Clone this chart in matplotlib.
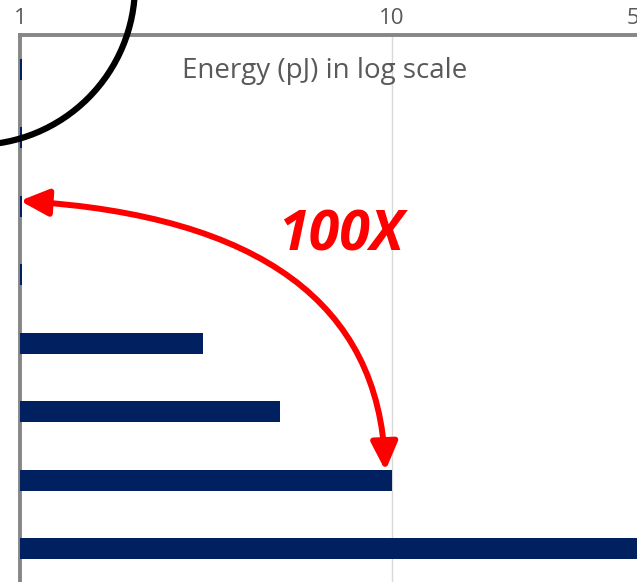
import numpy as np
import matplotlib
matplotlib.use("Agg")
import matplotlib.pyplot as plt
from matplotlib.patches import Circle, FancyArrowPatch, ArrowStyle
from matplotlib.path import Path

# energy per operation (pJ), top row first
rows = ["op1", "op2", "op3", "op4", "op5", "op6", "op7", "op8"]
energy = [1.01, 1.01, 1.01, 1.01, 3.1, 5.0, 10.0, 100.0]
ticks = [1, 10, 50]
tick_labels = ["1", "10", "50"]

bar_color = "#002060"
axis_gray = "#868686"
text_gray = "#595959"

fig = plt.figure(figsize=(6.37, 5.82), dpi=100)
# axes run past the right and bottom edges of the figure
ax = fig.add_axes([20 / 637, -1 / 582, 632 / 637, 548 / 582])

y = np.arange(len(rows))
ax.barh(y, energy, height=0.31, color=bar_color, zorder=4)

ax.set_xscale("log")
ax.set_xlim(1, 50)
ax.set_ylim(len(rows) - 0.5, -0.5)
ax.set_xticks(ticks)
ax.set_xticklabels(tick_labels)
ax.xaxis.set_minor_locator(matplotlib.ticker.NullLocator())
ax.set_yticks([])
ax.xaxis.tick_top()
ax.tick_params(axis="x", length=0, pad=4, labelsize=16, labelcolor=text_gray)
for lab in ax.get_xticklabels():
    lab.set_fontfamily("Open Sans")
ax.get_xticklabels()[-1].set_horizontalalignment("right")
ax.grid(True, axis="x", color="#d9d9d9", lw=1, zorder=1)

for side in ["right", "bottom"]:
    ax.spines[side].set_visible(False)
for side in ["top", "left"]:
    ax.spines[side].set_color(axis_gray)
    ax.spines[side].set_linewidth(2.8)
    ax.spines[side].set_zorder(3)

fig.text(325 / 637, 1 - 78 / 582, "Energy (pJ) in log scale", ha="center", va="baseline",
         fontsize=20, color=text_gray, family="Open Sans")

# curved double arrow between the smallest and the 10 pJ bar
arrow_path = Path([(1.0, 1.92), (9.05, 2.25), (9.6, 5.86)],
                  [Path.MOVETO, Path.CURVE3, Path.CURVE3])
arrow = FancyArrowPatch(path=arrow_path, transform=ax.transData,
                        arrowstyle=ArrowStyle("<|-|>", head_length=1.7, head_width=0.8),
                        mutation_scale=10, color="#ff0000", lw=4.3, clip_on=False, zorder=5)
ax.add_patch(arrow)

ax.text(7.3, 2.44, "100X", ha="center", va="center", fontsize=40,
        color="#ff0000", fontweight="bold", fontstyle="italic", family="Open Sans", zorder=6)

# black ring in the top-left corner
ring = Circle((-0.25, 5.97), 1.6, transform=fig.dpi_scale_trans, fill=False,
              edgecolor="black", lw=4.5, clip_on=False, zorder=10)
fig.add_artist(ring)

fig.savefig("out.png", dpi=100)
